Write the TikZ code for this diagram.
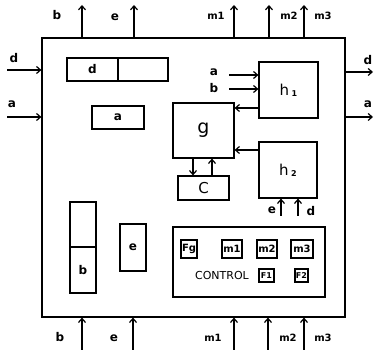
\documentclass[tikz,border=0pt]{standalone}
\usepackage{fontspec}
\setmainfont{DejaVu Sans}
\usetikzlibrary{arrows.meta}
\begin{document}
\begin{tikzpicture}[x=1pt,y=-1pt,
  line width=1.2pt,
  box/.style={draw,rectangle,inner sep=0pt,line width=1.2pt},
  arr/.style={-{Straight Barb[length=4pt,width=7pt]},line width=1.2pt},
  lbl/.style={font=\fontsize{12}{12}\selectfont\bfseries,inner sep=0pt},
  small/.style={font=\fontsize{10}{10}\selectfont\bfseries,inner sep=0pt}]
\useasboundingbox (0,0) rectangle (376,350);
% frame
\node[box,minimum width=303pt,minimum height=279pt] (F) at (193.5,177.5) {};
% internal boxes
\node[box,minimum width=51pt,minimum height=23pt,lbl] (d1) at (92.5,69.5) {d};
\node[box,minimum width=50pt,minimum height=23pt] (d2) at (143,69.5) {};
\node[box,minimum width=52pt,minimum height=23pt,lbl] (abox) at (118,117.5) {a};
\node[box,minimum width=59pt,minimum height=56pt,font=\fontsize{15}{15}\selectfont] (h1) at (288.5,90) {h\,\raisebox{-1pt}{\fontsize{8}{8}\selectfont\bfseries 1}};
\node[box,minimum width=61pt,minimum height=55pt,font=\fontsize{19}{19}\selectfont] (g) at (203.5,130.5) {g};
\node[box,minimum width=58pt,minimum height=56pt,font=\fontsize{15}{15}\selectfont] (h2) at (288,170) {h\,\raisebox{-1pt}{\fontsize{8}{8}\selectfont\bfseries 2}};
\node[box,minimum width=51pt,minimum height=24pt,font=\fontsize{15}{15}\selectfont] (c) at (203.5,188) {C};
\node[box,minimum width=152pt,minimum height=70pt] (ctl) at (249,262) {};
\node[box,minimum width=16pt,minimum height=18pt,small] (fg) at (189,249) {Fg};
\node[box,minimum width=20pt,minimum height=18pt,small] (cm1) at (232,249) {m1};
\node[box,minimum width=20pt,minimum height=18pt,small] (cm2) at (267,249) {m2};
\node[box,minimum width=22pt,minimum height=18pt,small] (cm3) at (302,249) {m3};
\node[font=\fontsize{11}{11}\selectfont,inner sep=0pt] (ctltxt) at (222,275.5) {CONTROL};
\node[box,minimum width=15pt,minimum height=13pt,font=\fontsize{8}{8}\selectfont\bfseries] (f1) at (266.5,275.5) {F1};
\node[box,minimum width=13pt,minimum height=13pt,font=\fontsize{8}{8}\selectfont\bfseries] (f2) at (301.5,275.5) {F2};
\node[box,minimum width=26pt,minimum height=45pt] (bup) at (83,224.5) {};
\node[box,minimum width=26pt,minimum height=46pt,lbl] (blo) at (83,270) {b};
\node[box,minimum width=26pt,minimum height=47pt,lbl] (ebox) at (133,247.5) {e};
% coordinates for free ends
\coordinate (tb) at (82,5);
\coordinate (te) at (134,5);
\coordinate (tm1) at (234,5);
\coordinate (tm2) at (269,5);
\coordinate (tm3) at (304,5);
\coordinate (bb) at (82,350);
\coordinate (be) at (133,350);
\coordinate (bm1) at (234,350);
\coordinate (bm2) at (268,350);
\coordinate (bm3) at (304,350);
\coordinate (ld) at (7,70);
\coordinate (la) at (7,117);
\coordinate (rd) at (373,72);
\coordinate (ra) at (373,117);
\coordinate (ha) at (229,75);
\coordinate (hb) at (229,89);
\coordinate (p1) at (0,108);
\coordinate (p2) at (0,150);
\coordinate (q1) at (193,0);
\coordinate (q2) at (212,0);
\coordinate (he) at (281,216);
\coordinate (hd) at (298,216);
% top outputs
\draw[arr] (tb |- F.north) -- (tb);
\draw[arr] (te |- F.north) -- (te);
\draw[arr] (tm1 |- F.north) -- (tm1);
\draw[arr] (tm2 |- F.north) -- (tm2);
\draw[arr] (tm3 |- F.north) -- (tm3);
% bottom inputs
\draw[arr] (bb) -- (bb |- F.south);
\draw[arr] (be) -- (be |- F.south);
\draw[arr] (bm1) -- (bm1 |- F.south);
\draw[arr] (bm2) -- (bm2 |- F.south);
\draw[arr] (bm3) -- (bm3 |- F.south);
% left inputs
\draw[arr] (ld) -- (ld -| F.west);
\draw[arr] (la) -- (la -| F.west);
% right outputs
\draw[arr] (rd -| F.east) -- (rd);
\draw[arr] (ra -| F.east) -- (ra);
% internal connections
\draw[arr] (ha) -- (ha -| h1.west);
\draw[arr] (hb) -- (hb -| h1.west);
\draw[arr] (h1.west |- p1) -- (g.east |- p1);
\draw[arr] (h2.west |- p2) -- (g.east |- p2);
\draw[arr] (g.south -| q1) -- (c.north -| q1);
\draw[arr] (c.north -| q2) -- (g.south -| q2);
\draw[arr] (he) -- (he |- h2.south);
\draw[arr] (hd) -- (hd |- h2.south);
% labels
\node[lbl] (ltb) at (57,15) {b};
\node[lbl] (lte) at (115,17) {e};
\node[small] (ltm1) at (216,16) {m1};
\node[small] (ltm2) at (289,16) {m2};
\node[small] (ltm3) at (323,16) {m3};
\node[lbl] (lbb) at (60,337) {b};
\node[lbl] (lbe) at (114,338) {e};
\node[small] (lbm1) at (213,338) {m1};
\node[small] (lbm2) at (288,338) {m2};
\node[small] (lbm3) at (323,338) {m3};
\node[lbl] (lld) at (14,58) {d};
\node[lbl] (lla) at (12,104) {a};
\node[lbl] (lrd) at (368,60) {d};
\node[lbl] (lra) at (368,104) {a};
\node[lbl] (lha) at (214,72) {a};
\node[lbl] (lhb) at (214,88) {b};
\node[lbl] (lhe) at (272,210) {e};
\node[lbl] (lhd) at (311,211) {d};
\end{tikzpicture}
\end{document}
